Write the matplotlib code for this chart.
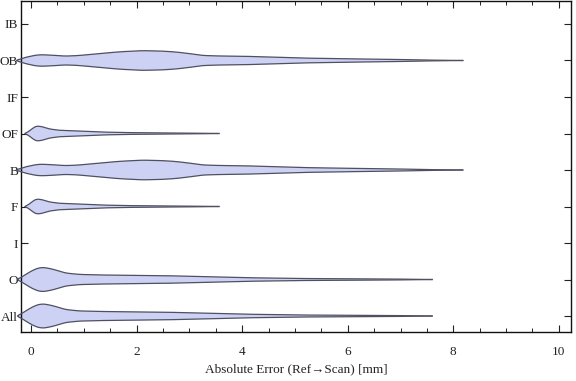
import numpy as np
import matplotlib
matplotlib.use("Agg")
import matplotlib.pyplot as plt
from matplotlib.ticker import MultipleLocator

categories = ["All", "O", "I", "F", "B", "OF", "IF", "OB", "IB"]

# violin density profiles (x in mm, half-width in category units)
prof_OB_x = [-0.27, -0.15, 0.0, 0.14, 0.35, 0.64, 0.9, 1.27, 1.7, 2.1, 2.45, 2.73, 3.0, 3.23, 3.5, 3.77, 4.05, 4.5, 5.03, 5.8, 6.6, 7.0, 7.37, 7.8, 8.18]
prof_OB_w = [0.0, 0.07, 0.12, 0.16, 0.15, 0.12, 0.135, 0.19, 0.24, 0.27, 0.26, 0.235, 0.19, 0.14, 0.125, 0.123, 0.115, 0.095, 0.07, 0.05, 0.036, 0.027, 0.014, 0.007, 0.0]

prof_OF_x = [-0.11, -0.02, 0.05, 0.11, 0.2, 0.35, 0.52, 0.96, 1.3, 1.72, 2.35, 3.0, 3.56]
prof_OF_w = [0.0, 0.08, 0.165, 0.205, 0.19, 0.125, 0.09, 0.063, 0.041, 0.027, 0.016, 0.011, 0.0]

prof_O_x = [-0.25, -0.1, 0.05, 0.2, 0.4, 0.64, 0.9, 1.27, 2.54, 3.3, 4.05, 5.03, 6.3, 7.0, 7.6]
prof_O_w = [0.0, 0.14, 0.27, 0.34, 0.29, 0.18, 0.14, 0.125, 0.105, 0.077, 0.05, 0.028, 0.019, 0.011, 0.0]

profiles = {
    "All": (prof_O_x, prof_O_w),
    "O": (prof_O_x, prof_O_w),
    "F": (prof_OF_x, prof_OF_w),
    "B": (prof_OB_x, prof_OB_w),
    "OF": (prof_OF_x, prof_OF_w),
    "OB": (prof_OB_x, prof_OB_w),
}

xlabel = "Absolute Error (Ref\u2192Scan) [mm]"

plt.rcParams['font.family'] = ['Liberation Serif', 'DejaVu Serif']

fig = plt.figure(figsize=(5.76, 3.81), dpi=100)
ax = fig.add_axes([21/576, 49/381, 550/576, 331/381])

fill_c = "#cdd1f4"
edge_c = "#4f5060"

for i, cat in enumerate(categories):
    pos = i + 1
    if cat not in profiles:
        continue
    px, pw = profiles[cat]
    xs = np.linspace(px[0], px[-1], 400)
    ws = np.interp(xs, px, pw)
    k = np.ones(9) / 9
    ws_s = np.convolve(np.pad(ws, 4, mode="edge"), k, mode="valid")
    ws_s[0] = 0; ws_s[-1] = 0
    ax.fill_between(xs, pos - ws_s, pos + ws_s, facecolor=fill_c, edgecolor="none", clip_on=False, zorder=2)
    ax.plot(xs, pos + ws_s, color=edge_c, lw=0.9, clip_on=False, zorder=3)
    ax.plot(xs, pos - ws_s, color=edge_c, lw=0.9, clip_on=False, zorder=3)

ax.set_xlim(-0.19, 10.23)
ax.set_ylim(0.562, 9.63)
ax.set_yticks(range(1, len(categories) + 1))
ax.set_yticklabels(categories)
ax.xaxis.set_major_locator(MultipleLocator(2))
ax.xaxis.set_minor_locator(MultipleLocator(0.5))
ax.tick_params(axis="both", which="major", direction="in", length=5, width=0.8,
               top=True, right=True, labelsize=9.5, colors="#222222")
ax.tick_params(axis="x", which="minor", direction="in", length=3, width=0.6, top=True)
ax.tick_params(axis="x", which="major", pad=10)
ax.tick_params(axis="y", which="major", pad=2)
for s in ax.spines.values():
    s.set_linewidth(1.0)
    s.set_color("#111111")
ax.set_xlabel(xlabel, fontsize=9.5, color="#222222", labelpad=4)

fig.savefig("out.png", dpi=100)
